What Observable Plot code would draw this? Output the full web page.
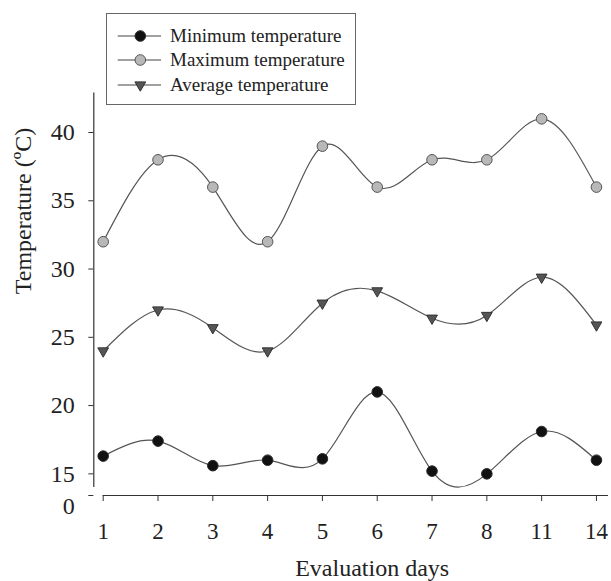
<!DOCTYPE html>
<html><head><meta charset="utf-8">
<script src="https://cdn.jsdelivr.net/npm/d3@7"></script>
<script src="https://cdn.jsdelivr.net/npm/@observablehq/plot@0.6"></script>
<style>
body{margin:0;background:#fff;}
#wrap{position:relative;width:611px;height:581px;font-family:"Liberation Serif","Times New Roman",serif;color:#222;}
#legend{position:absolute;left:106px;top:13px;width:250px;height:92px;border:1px solid #666;background:#fff;box-sizing:border-box;}
.row{position:absolute;left:0;height:24px;display:flex;align-items:center;font-size:19px;white-space:nowrap;}
.row svg{flex:none;}
</style></head><body><div id="wrap"><div id="chart"></div><div id="legend"></div></div>
<script>
const days = ["1","2","3","4","5","6","7","8","11","14"];
const minTemp = [16.3, 17.4, 15.6, 16.0, 16.1, 21.0, 15.2, 15.0, 18.1, 16.0];
const maxTemp = [32, 38, 36, 32, 39, 36, 38, 38, 41, 36];
const avgTemp = [24.0, 27.0, 25.7, 24.0, 27.5, 28.4, 26.4, 26.6, 29.4, 25.9];
const yTicksUpper = [15, 20, 25, 30, 35, 40];
const yTickBreak = [0];
const seriesNames = ["Minimum temperature", "Maximum temperature", "Average temperature"];

const styles = {
  "Minimum temperature": {fill: "#111", stroke: "#2a2a2a", symbol: "circle", r: 5.3, rotate: 0},
  "Maximum temperature": {fill: "#b8b8b8", stroke: "#555", symbol: "circle", r: 5.3, rotate: 0},
  "Average temperature": {fill: "#555", stroke: "#333", symbol: "triangle", r: 4, rotate: 180}
};
const values = [minTemp, maxTemp, avgTemp];
const rows = seriesNames.flatMap((s, k) => days.map((d, i) => ({i, day: d, series: s, value: values[k][i]})));

const xLo = -0.1715, xHi = 9.22;   // axis extents in index units
const yBreak = 14, yTop = 42.9;

const plot = Plot.plot({
  width: 611, height: 581,
  marginLeft: 93.3, marginRight: 3, marginTop: 92.4, marginBottom: 86,
  style: {fontFamily: "'Liberation Serif','Times New Roman',serif", color: "#222", background: "#fff", overflow: "visible"},
  x: {type: "linear", domain: [xLo, xHi]},
  y: {type: "linear", domain: [0, yBreak, yTop], range: [495, 487, 92.4]},
  marks: [
    Plot.ruleX([xLo], {y1: yBreak, y2: yTop, stroke: "#333", strokeWidth: 1.2}),
    Plot.ruleY([0], {x1: 0, x2: xHi, stroke: "#333", strokeWidth: 1.2}),
    Plot.axisY({ticks: yTicksUpper, tickSize: 5, tickPadding: 14, fontSize: 24, label: null, stroke: "#333"}),
    Plot.axisY({ticks: yTickBreak, tickSize: 5, tickPadding: 14, fontSize: 24, label: null, stroke: "#333"}),
    Plot.axisX({ticks: d3.range(days.length), tickFormat: i => days[i], tickSize: 6, tickPadding: 21, fontSize: 23, label: null, stroke: "#333"}),
    Plot.line(rows, {x: "i", y: "value", z: "series", curve: "natural", stroke: "#555", strokeWidth: 1.2}),
    ...seriesNames.map(s => Plot.dot(rows.filter(d => d.series === s), {
      x: "i", y: "value", r: styles[s].r, symbol: styles[s].symbol, rotate: styles[s].rotate,
      fill: styles[s].fill, stroke: styles[s].stroke, strokeWidth: 1
    })),
    Plot.text(["Evaluation days"], {frameAnchor: "bottom", dx: 21, dy: 80.5, lineAnchor: "bottom", fontSize: 24, fill: "#222"}),
    Plot.text(["Temperature (ºC)"], {frameAnchor: "left", dx: -63.3, rotate: -90, lineAnchor: "bottom", fontSize: 24, fill: "#222"})
  ]
});
document.getElementById("chart").appendChild(plot);

// nudge the broken-axis "0" label slightly down, as in the reference
d3.select(plot).selectAll("g[aria-label='y-axis tick label'] text")
  .filter(function() { return this.textContent === "0"; })
  .attr("dy", "0.45em");

// legend
const legend = d3.select("#legend");
seriesNames.forEach((s, k) => {
  const st = styles[s];
  const row = legend.append("div").attr("class", "row").style("top", (9.8 + k * 24.5) + "px");
  const svg = row.append("svg").attr("width", 63).attr("height", 24);
  svg.append("line").attr("x1", 10.7).attr("x2", 54).attr("y1", 12).attr("y2", 12).attr("stroke", "#444").attr("stroke-width", 1.2);
  const sym = st.symbol === "triangle" ? d3.symbolTriangle : d3.symbolCircle;
  svg.append("path").attr("d", d3.symbol(sym, Math.PI * st.r * st.r)())
    .attr("transform", `translate(33.3,12) rotate(${st.rotate})`)
    .attr("fill", st.fill).attr("stroke", st.stroke);
  row.append("span").text(s);
});
</script></body></html>
